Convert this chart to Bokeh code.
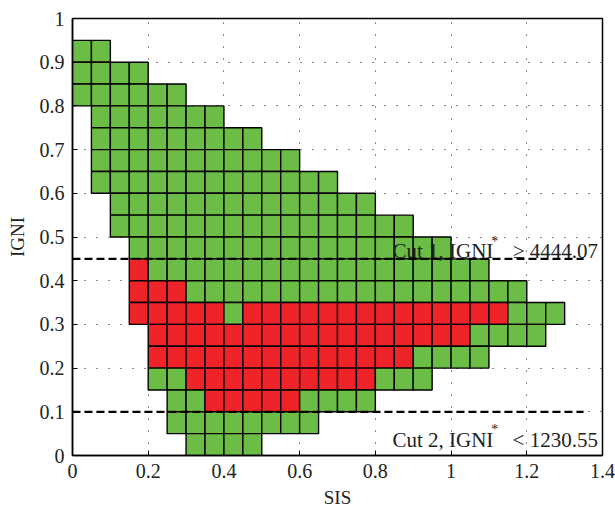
import numpy as np
from bokeh.plotting import figure
from bokeh.models import FixedTicker, Label, ColumnDataSource
from bokeh.embed import file_html
from bokeh.resources import INLINE

# ---- data ----
cell = 0.05
# each occupied row: bottom y, first cell x, end x
row_y     = [0.90, 0.85, 0.80, 0.75, 0.70, 0.65, 0.60, 0.55, 0.50, 0.45,
             0.40, 0.35, 0.30, 0.25, 0.20, 0.15, 0.10, 0.05, 0.00]
row_start = [0.00, 0.00, 0.00, 0.05, 0.05, 0.05, 0.05, 0.10, 0.10, 0.15,
             0.15, 0.15, 0.15, 0.20, 0.20, 0.20, 0.25, 0.25, 0.30]
row_end   = [0.10, 0.20, 0.30, 0.40, 0.50, 0.60, 0.70, 0.80, 0.90, 1.00,
             1.10, 1.20, 1.30, 1.25, 1.10, 0.95, 0.80, 0.65, 0.50]
# red segments: row bottom y, start x, end x
red_y     = [0.40, 0.35, 0.30, 0.30, 0.25, 0.20, 0.15, 0.10]
red_start = [0.15, 0.15, 0.15, 0.45, 0.20, 0.20, 0.30, 0.35]
red_end   = [0.20, 0.30, 0.40, 1.15, 1.05, 0.90, 0.80, 0.60]

cut_y = [0.45, 0.10]
cut_x0 = [0.0, 0.0]
cut_x1 = [1.35, 1.35]

x_tick_vals = [0, 0.2, 0.4, 0.6, 0.8, 1.0, 1.2, 1.4]
x_tick_labels = ["0", "0.2", "0.4", "0.6", "0.8", "1", "1.2", "1.4"]
y_tick_vals = [0, 0.1, 0.2, 0.3, 0.4, 0.5, 0.6, 0.7, 0.8, 0.9, 1.0]
y_tick_labels = ["0", "0.1", "0.2", "0.3", "0.4", "0.5", "0.6", "0.7", "0.8", "0.9", "1"]

GREEN = "#6cbd45"
RED = "#ee2428"
FONT = "Liberation Serif"

# build cells
left, bottom, colors = [], [], []
for y, s, e in zip(row_y, row_start, row_end):
    n = int(round((e - s) / cell))
    for i in range(n):
        x = round(s + i * cell, 4)
        is_red = False
        for ry, rs, re_ in zip(red_y, red_start, red_end):
            if abs(ry - y) < 1e-9 and rs - 1e-9 <= x < re_ - 1e-9:
                is_red = True
        left.append(x)
        bottom.append(y)
        colors.append(RED if is_red else GREEN)
left = np.array(left)
bottom = np.array(bottom)
src = ColumnDataSource(dict(left=left, right=left + cell, bottom=bottom,
                            top=bottom + cell, color=colors))

p = figure(width=615, height=515, x_range=(0, 1.4), y_range=(0, 1),
           output_backend="svg", toolbar_location=None,
           min_border_left=72, min_border_right=13, min_border_top=18,
           min_border_bottom=60)
p.background_fill_color = "white"
p.border_fill_color = "white"
p.outline_line_color = "black"
p.outline_line_width = 1.5
p.outline_line_alpha = 1

p.quad(left="left", right="right", bottom="bottom", top="top",
       fill_color="color", line_color="black", line_width=1.4, source=src)

p.segment(x0=cut_x0, x1=cut_x1, y0=cut_y, y1=cut_y, line_color="black",
          line_width=2.2, line_dash="8 4")

for ax, vals, labs in ((p.xaxis[0], x_tick_vals, x_tick_labels),
                       (p.yaxis[0], y_tick_vals, y_tick_labels)):
    ax.ticker = FixedTicker(ticks=vals)
    ax.major_label_overrides = {v: l for v, l in zip(vals, labs)}
    ax.major_tick_in = 5
    ax.major_tick_out = 0
    ax.minor_tick_line_color = None
    ax.axis_line_color = "black"
    ax.axis_line_width = 1.5
    ax.major_tick_line_color = "black"
    ax.major_label_text_font = FONT
    ax.major_label_text_font_size = "20px"
    ax.major_label_text_color = "#222222"
    ax.axis_label_text_font = FONT
    ax.axis_label_text_font_size = "19px"
    ax.axis_label_text_font_style = "normal"
    ax.axis_label_text_color = "#222222"

p.xaxis.axis_label = "SIS"
p.yaxis.axis_label = "IGNI"
p.xaxis.major_label_standoff = 8
p.xaxis.axis_label_standoff = 6
p.yaxis.major_label_standoff = 8
p.yaxis.axis_label_standoff = 9

for g in (p.xgrid[0], p.ygrid[0]):
    g.grid_line_color = "black"
    g.grid_line_dash = "1 11"
    g.grid_line_width = 1
    g.grid_line_alpha = 0.9
p.xgrid.ticker = FixedTicker(ticks=x_tick_vals)
p.ygrid.ticker = FixedTicker(ticks=y_tick_vals)

def annot(y_base, y_star, lead, op_text):
    p.add_layout(Label(x=0.845, y=y_base, text=lead,
                       text_font=FONT, text_font_size="21px", text_color="#222222",
                       text_baseline="alphabetic", text_align="left"))
    p.add_layout(Label(x=1.106, y=y_star, text="*", text_font=FONT,
                       text_font_size="14px", text_color="#222222",
                       text_baseline="top", text_align="left"))
    p.add_layout(Label(x=1.388, y=y_base, text=op_text, text_font=FONT,
                       text_font_size="21px", text_color="#222222",
                       text_baseline="alphabetic", text_align="right"))

annot(0.468, 0.508, "Cut 1, IGNI", "≥ 4444.07")
annot(0.0355, 0.077, "Cut 2, IGNI", "< 1230.55")

open("out.html", "w").write(file_html(p, INLINE))
